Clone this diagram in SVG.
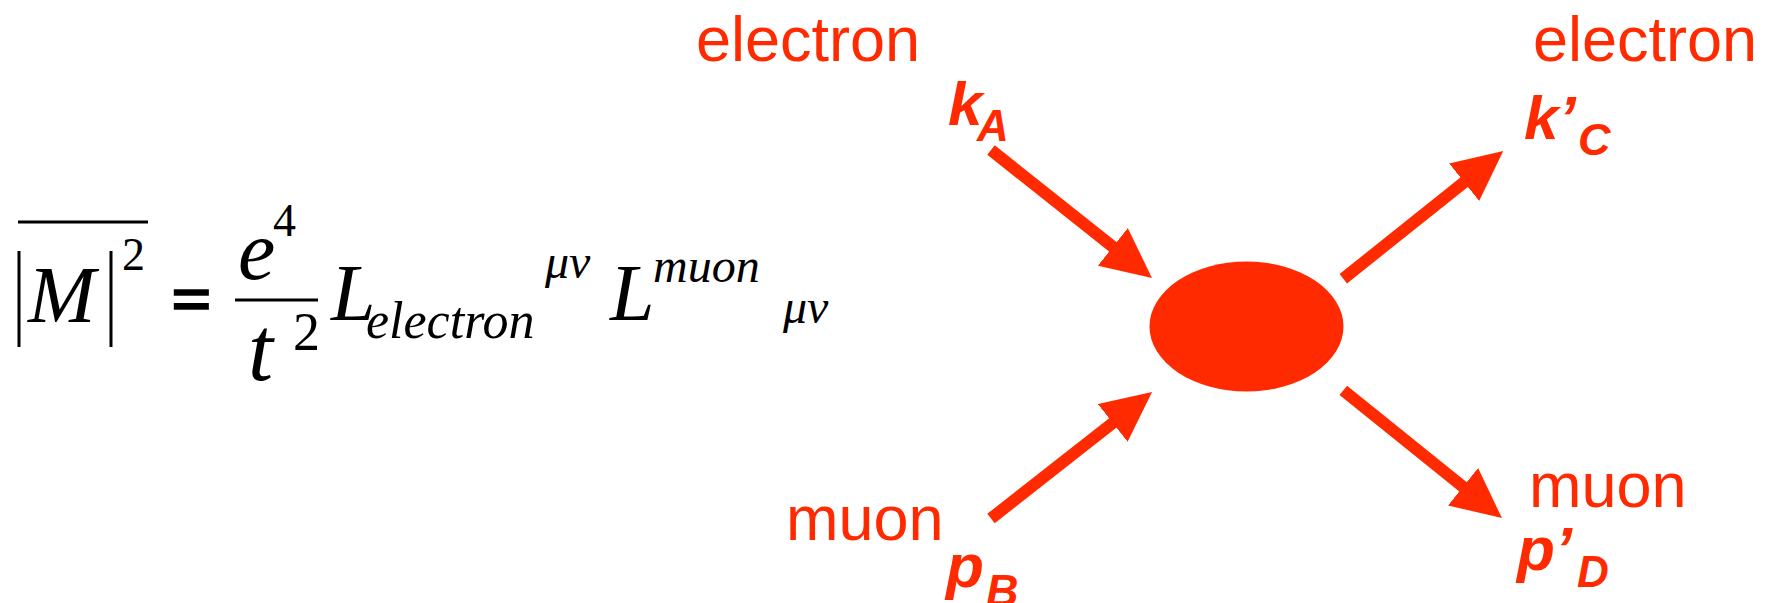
<svg xmlns="http://www.w3.org/2000/svg" width="1779" height="603" viewBox="0 0 1779 603">
<style>
.m{font-family:"Liberation Serif","Times New Roman",serif;fill:#000}
.i{font-style:italic}
.lbl{font-family:"Liberation Sans",Arial,sans-serif;fill:#ff2a00;font-size:63px}
.mom{font-family:"Liberation Sans",Arial,sans-serif;fill:#ff2a00;font-weight:bold;font-style:italic}
.rule{stroke:#000;stroke-width:3;fill:none}
.arr{stroke:#ff2a00;stroke-width:12;fill:none;marker-end:url(#head)}
</style>
<defs>
<marker id="head" markerUnits="userSpaceOnUse" markerWidth="50" markerHeight="48" viewBox="0 0 50 48" refX="20" refY="24" orient="auto">
<path d="M0,0 L50,24 L0,48 Z" fill="#ff2a00"/>
</marker>
</defs>
<g id="equation">
<line class="rule" x1="18" y1="222" x2="148" y2="222"/>
<line class="rule" x1="19" y1="251" x2="19" y2="347"/>
<line class="rule" x1="111" y1="251" x2="111" y2="347"/>
<text class="m i" x="28" y="322" font-size="81">M</text>
<text class="m" x="122" y="270" font-size="46">2</text>
<text class="m" x="171" y="323" font-size="72" font-weight="bold" stroke="#000" stroke-width="1.6">=</text>
<line class="rule" x1="235" y1="300" x2="318" y2="300"/>
<text class="m i" x="238" y="279" font-size="84">e</text>
<text class="m" x="273" y="236" font-size="46">4</text>
<text class="m i" x="248" y="380" font-size="90">t</text>
<text class="m" x="293" y="350" font-size="54">2</text>
<text class="m i" x="331" y="320" font-size="80">L</text>
<text class="m i" x="366" y="338" font-size="52">electron</text>
<text class="m i" x="545" y="278" font-size="48">μν</text>
<text class="m i" x="610" y="320" font-size="80">L</text>
<text class="m i" x="653" y="282" font-size="48">muon</text>
<text class="m i" x="783" y="323" font-size="48">μν</text>
</g>
<g id="vertex">
<ellipse cx="1246.5" cy="326.5" rx="97" ry="65" fill="#ff2a00"/>
</g>
<g id="electron-in">
<text class="lbl" x="696" y="61">electron</text>
<text class="mom" x="948" y="125" font-size="62">k</text>
<text class="mom" x="977" y="141" font-size="44">A</text>
</g>
<g id="muon-in">
<text class="lbl" x="786" y="540">muon</text>
<text class="mom" x="946" y="587" font-size="62">p</text>
<text class="mom" x="986" y="606" font-size="45">B</text>
</g>
<g id="electron-out">
<text class="lbl" x="1533" y="61">electron</text>
<text class="mom" x="1524" y="139" font-size="62">k’</text>
<text class="mom" x="1578" y="155" font-size="45">C</text>
</g>
<g id="muon-out">
<text class="lbl" x="1529" y="507">muon</text>
<text class="mom" x="1517" y="570" font-size="62">p’</text>
<text class="mom" x="1577" y="587" font-size="44">D</text>
</g>
<g id="connectors">
<line class="arr" x1="991" y1="150" x2="1128.5" y2="259.3"/>
<line class="arr" x1="991" y1="518.5" x2="1128.5" y2="410.6"/>
<line class="arr" x1="1343.3" y1="278.7" x2="1479.8" y2="169.7"/>
<line class="arr" x1="1343.3" y1="390.3" x2="1478.6" y2="499.3"/>
</g>
</svg>
